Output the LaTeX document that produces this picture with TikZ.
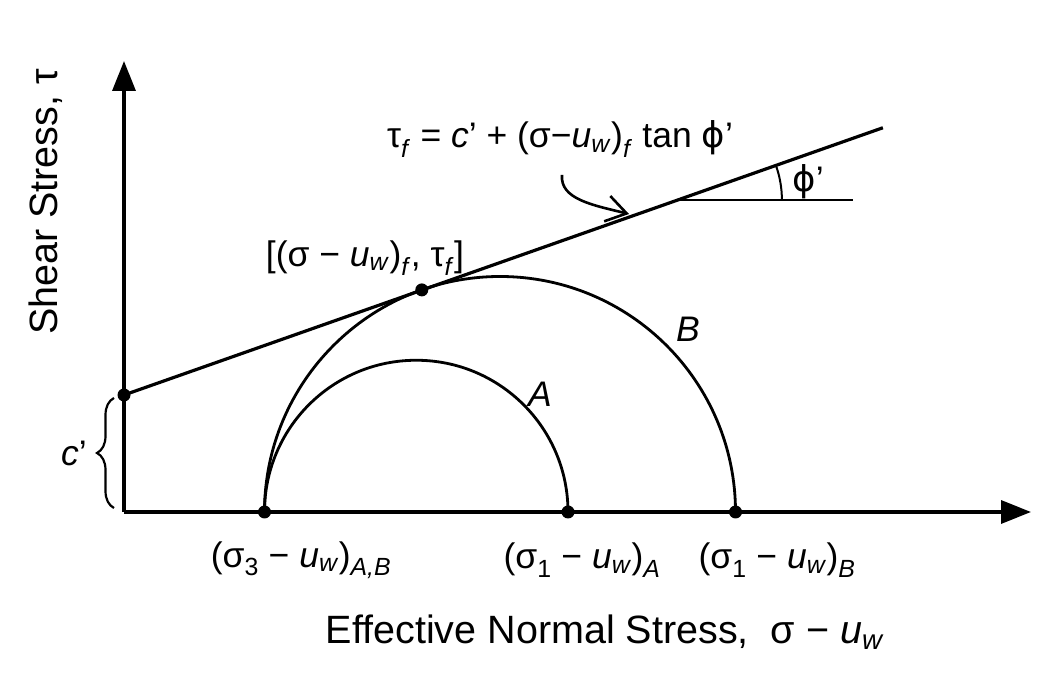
\documentclass[tikz,border=0pt]{standalone}
\usepackage{fontspec}
\setmainfont{Liberation Sans}
\newfontfamily\dvs{DejaVu Sans}
\usetikzlibrary{arrows.meta,decorations.pathreplacing,calc}
\newcommand{\sbs}[1]{\textsubscript{#1}}
\newcommand{\vphi}{{\dvs ϕ}}
\begin{document}
\begin{tikzpicture}[x=1pt,y=1pt,
  axis/.style={line width=3.4pt,-{Triangle[length=30pt,width=23pt]}},
  curve/.style={line width=2.8pt},
  dot/.style={circle,fill=black,inner sep=0pt,minimum size=13pt},
  lbl/.style={font=\fontsize{35.5}{42}\selectfont,inner sep=0pt},
  big/.style={font=\fontsize{39.5}{46}\selectfont,inner sep=0pt}]
\useasboundingbox (0,0) rectangle (1037,675);
% axes
\coordinate (O) at (124,163);
\coordinate (Ytip) at (124,614);
\coordinate (Xtip) at (1031,163);
\draw[axis] (O) -- (Ytip);
\draw[axis] (O) -- (Xtip);
% circles
\draw[curve] (264.5,163) arc[start angle=180,end angle=0,radius=151.75];
\draw[curve] (264.5,163) arc[start angle=180,end angle=0,radius=235.5];
% failure envelope
\node[dot] (cp) at (124,280) {};
\coordinate (E) at ($(cp)+(19.4:804.6)$);
\draw[line width=3.2pt] (cp.center) -- (E);
\node[dot] (T) at (421.8,385.1) {};
% angle marker
\coordinate (H0) at (678.9,475);
\coordinate (H1) at (853,475);
\draw[line width=2pt] (H0) -- (H1);
\draw[line width=2pt] ($(H0)+(103,0)$) arc[start angle=0,end angle=19.4,radius=103];
\node[lbl] (phi) at (808,493) {\vphi’};
% dots on axis
\node[dot] (s3) at (264.5,163) {};
\node[dot] (s1A) at (568,163) {};
\node[dot] (s1B) at (735.5,163) {};
% labels
\node[lbl] (f) at (560,536) {τ\sbs{\textit{f}} = \textit{c}’ + (σ−\textit{u}\sbs{\textit{w}})\sbs{\textit{f}} tan \vphi’};
\coordinate (fa) at (562,500);
\coordinate (fb) at (629,461);
\draw[line width=2.6pt,-{Straight Barb[length=20pt,width=26pt]}] (fa) .. controls (560,476) and (592,470) .. (fb);
\node[lbl] (tl) at (365,417) {[(σ − \textit{u}\sbs{\textit{w}})\sbs{\textit{f}}, τ\sbs{\textit{f}}]};
\node[lbl] (A) at (540,281) {\textit{A}};
\node[lbl] (B) at (688,346) {\textit{B}};
\node[lbl] (l1) at (301,115) {(σ\sbs{3} − \textit{u}\sbs{\textit{w}})\sbs{\textit{A,B}}};
\node[lbl] (l2) at (582,115) {(σ\sbs{1} − \textit{u}\sbs{\textit{w}})\sbs{\textit{A}}};
\node[lbl] (l3) at (777,115) {(σ\sbs{1} − \textit{u}\sbs{\textit{w}})\sbs{\textit{B}}};
\node[big] (xl) at (605,43) {Effective Normal Stress,\ \ σ − \textit{u}\sbs{\textit{w}}};
\node[big,rotate=90] (yl) at (46,473) {Shear Stress, τ};
% brace
\draw[line width=2.2pt,decorate,decoration={brace,amplitude=17pt}] (114,167) -- (114,277);
\node[lbl] (cl) at (74,222) {\textit{c}’};
\end{tikzpicture}
\end{document}
